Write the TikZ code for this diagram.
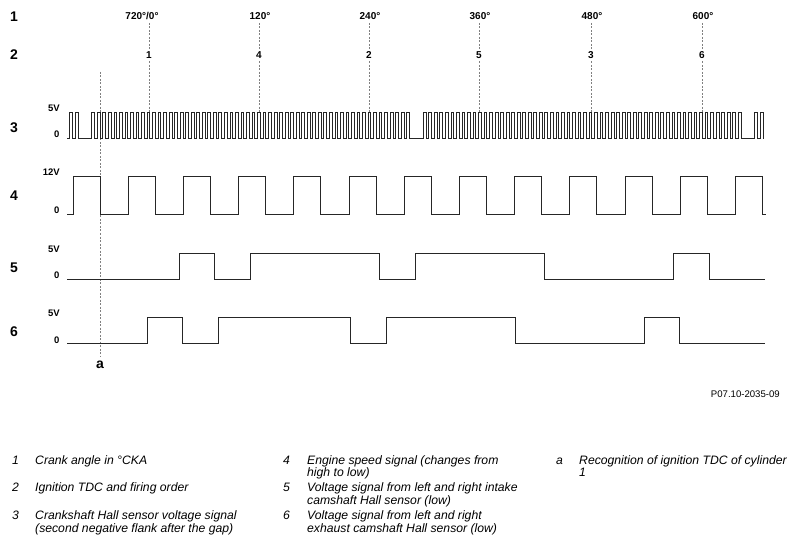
\documentclass[tikz,border=0pt]{standalone}
\usepackage{fontspec}
\setmainfont{Liberation Sans}

\begin{document}
\begin{tikzpicture}[x=1bp,y=-1bp]
    \useasboundingbox (0,0) rectangle (795,547);
    \tikzset{
      rowlabel/.style = {font=\fontsize{14bp}{14bp}\selectfont\bfseries, anchor=base},
      angle/.style = {font=\fontsize{10bp}{10bp}\selectfont\bfseries, anchor=base, inner sep=2.5bp},
      level/.style = {font=\fontsize{9.5bp}{9.5bp}\selectfont\bfseries, anchor=base east, inner sep=0pt},
      sig/.style = {line width=0.8bp, black!85, line join=miter},
      tdcline/.style = {gray, line width=0.6bp, dash pattern=on 2bp off 1.5bp},
      legnum/.style = {font=\fontsize{12.2bp}{12.5bp}\selectfont\itshape, anchor=base west, inner sep=0pt},
      legtext/.style = {legnum, align=left}
    }
    % tooth period and first tooth of the crank signal
    \def\tp{5.525}
    \def\tx{69.71}

    % Row numbers
    \node[rowlabel] (row1) at (14,21.7) {1};
    \node[rowlabel] (row2) at (14,60) {2};
    \node[rowlabel] (row3) at (14,132.7) {3};
    \node[rowlabel] (row4) at (14,200.7) {4};
    \node[rowlabel] (row5) at (14,272.7) {5};
    \node[rowlabel] (row6) at (14,336) {6};

    % Crank angle
    \node[angle] (ang1) at (142,20) {720°/0°};
    \node[angle] (ang2) at (260,20) {120°};
    \node[angle] (ang3) at (370,20) {240°};
    \node[angle] (ang4) at (480,20) {360°};
    \node[angle] (ang5) at (592,20) {480°};
    \node[angle] (ang6) at (703,20) {600°};

    % Firing order
    \node[angle] (ord1) at (149,58.5) {1};
    \node[angle] (ord2) at (259,58.5) {4};
    \node[angle] (ord3) at (369,58.5) {2};
    \node[angle] (ord4) at (479,58.5) {5};
    \node[angle] (ord5) at (591,58.5) {3};
    \node[angle] (ord6) at (702,58.5) {6};

    % Levels
    \node[level] (hi3) at (60,112) {5V};
    \node[level] (lo3) at (59.5,138) {0};
    \node[level] (hi4) at (60,176) {12V};
    \node[level] (lo4) at (59.5,214) {0};
    \node[level] (hi5) at (60,253) {5V};
    \node[level] (lo5) at (59.5,279) {0};
    \node[level] (hi6) at (60,317) {5V};
    \node[level] (lo6) at (59.5,343) {0};

    % TDC lines
    \coordinate (top3) at (0,112);
    \foreach \n in {1,...,6}
      \draw[tdcline] (ord\n |- ang\n.south) -- (ord\n) -- (ord\n |- top3);

    % Recognition of TDC
    \coordinate (atop) at (100,72);
    \node[rowlabel] (a) at (100,368) {a};
    \draw[tdcline] (atop) -- (a);

    % 3 | crankshaft, 60-2 teeth
    \draw[sig] (67,138)
      foreach \i in {0,1} { -- ({\tx+\i*\tp},138) -- ++(0,-26) -- ++({\tp/2},0) -- ++(0,26) }
      foreach \i in {4,...,61} { -- ({\tx+\i*\tp},138) -- ++(0,-26) -- ++({\tp/2},0) -- ++(0,26) }
      foreach \i in {64,...,121} { -- ({\tx+\i*\tp},138) -- ++(0,-26) -- ++({\tp/2},0) -- ++(0,26) }
      foreach \i in {124,125} { -- ({\tx+\i*\tp},138) -- ++(0,-26) -- ++({\tp/2},0) -- ++(0,26) }
      -- (764,138);

    % 4 | engine speed
    \draw[sig] (67,214)
      foreach \k in {0,...,12} { -- ({73+55.2*\k},214) -- ++(0,-38) -- ++(27,0) -- ++(0,38) }
      -- (766,214);

    % 5 | intake camshaft
    \draw[sig] (67,279) -| (179,253) -| (214,279) -| (250,253) -| (379,279)
      -| (415,253) -| (544,279) -| (673,253) -| (709,279) -- (765,279);

    % 6 | exhaust camshaft
    \draw[sig] (67,343) -| (147,317) -| (182,343) -| (218,317) -| (350,343)
      -| (386,317) -| (515,343) -| (644,317) -| (679,343) -- (765,343);

    % Figure number
    \node[font=\fontsize{9.6bp}{9.6bp}\selectfont, anchor=base east, inner sep=0pt] (fig) at (780,397) {P07.10-2035-09};

    % Legend (two-line texts sit on their last line)
    \node[legnum] (n1) at (12,464) {1};
    \node[legtext] (t1) at (35,464) {Crank angle in °CKA};
    \node[legnum] (n2) at (12,491.5) {2};
    \node[legtext] (t2) at (35,491.5) {Ignition TDC and firing order};
    \node[legnum] (n3) at (12,519.5) {3};
    \node[legtext] (t3) at (35,532) {Crankshaft Hall sensor voltage signal\\(second negative flank after the gap)};
    \node[legnum] (n4) at (283,464) {4};
    \node[legtext] (t4) at (307,476.5) {Engine speed signal (changes from\\high to low)};
    \node[legnum] (n5) at (283,491.5) {5};
    \node[legtext] (t5) at (307,504) {Voltage signal from left and right intake\\camshaft Hall sensor (low)};
    \node[legnum] (n6) at (283,519.5) {6};
    \node[legtext] (t6) at (307,532) {Voltage signal from left and right\\exhaust camshaft Hall sensor (low)};
    \node[legnum] (na) at (556,464) {a};
    \node[legtext] (ta) at (579,476.5) {Recognition of ignition TDC of cylinder\\1};

  \end{tikzpicture}
\end{document}
